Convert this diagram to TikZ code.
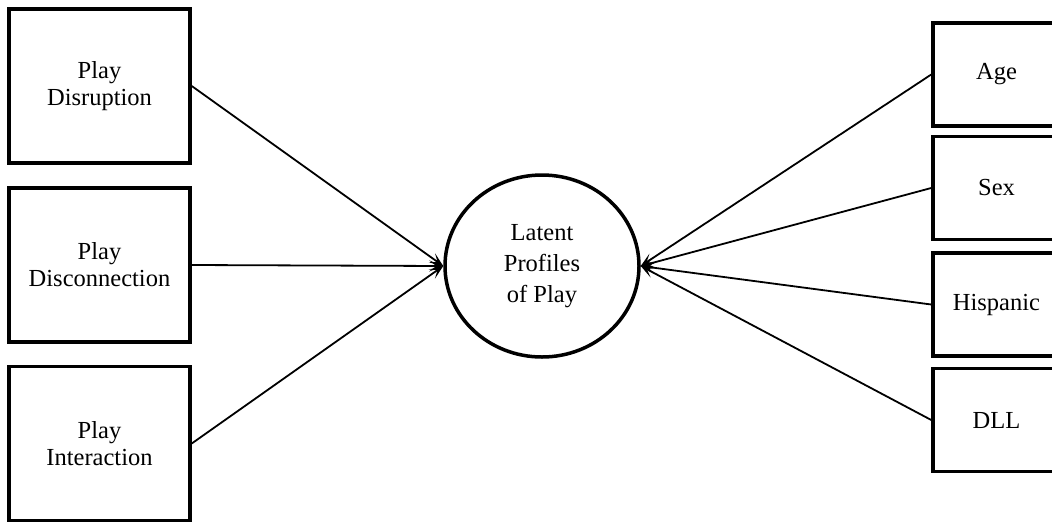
\documentclass[tikz,border=0pt]{standalone}
\usepackage{fontspec}
\setmainfont{Liberation Serif}
\usetikzlibrary{shapes.geometric,arrows.meta}
\begin{document}
\begin{tikzpicture}[x=1pt,y=-1pt,
  box/.style={draw,line width=3.5pt,rectangle,inner sep=0pt,align=center,
    font=\fontsize{24.5}{27}\selectfont},
  lbox/.style={box,minimum width=181pt,minimum height=154pt},
  rbox/.style={box,minimum width=127pt,minimum height=103pt},
  latent/.style={draw,ellipse,line width=3.5pt,inner sep=0pt,minimum width=194pt,
    minimum height=182pt,align=center,font=\fontsize{24.5}{31}\selectfont},
  arr/.style={line width=1.8pt,-{Stealth[length=14pt,width=11pt,inset=7pt]}}]
\useasboundingbox (0,0) rectangle (1052,523);
\clip (0,0) rectangle (1052,523);
\node[lbox] (pd) at (99.5,86) {Play\\Disruption};
\node[lbox] (pc) at (99.5,265) {Play\\Disconnection};
\node[lbox] (pi) at (99.5,443.5) {Play\\Interaction};
\node[rbox] (age) at (996.5,74.5) {Age};
\node[rbox] (sex) at (996.5,188) {Sex};
\node[rbox] (his) at (996.5,304.5) {Hispanic};
\node[rbox] (dll) at (996.5,420) {DLL};
\node[latent] (lat) at (542,266) {Latent\\Profiles\\of Play};
\draw[arr] (pd.east) -- (lat.west);
\draw[arr] (pc.east) -- (lat.west);
\draw[arr] (pi.east) -- (lat.west);
\draw[arr] (age.west) -- (lat.east);
\draw[arr] (sex.west) -- (lat.east);
\draw[arr] (his.west) -- (lat.east);
\draw[arr] (dll.west) -- (lat.east);
\end{tikzpicture}
\end{document}
